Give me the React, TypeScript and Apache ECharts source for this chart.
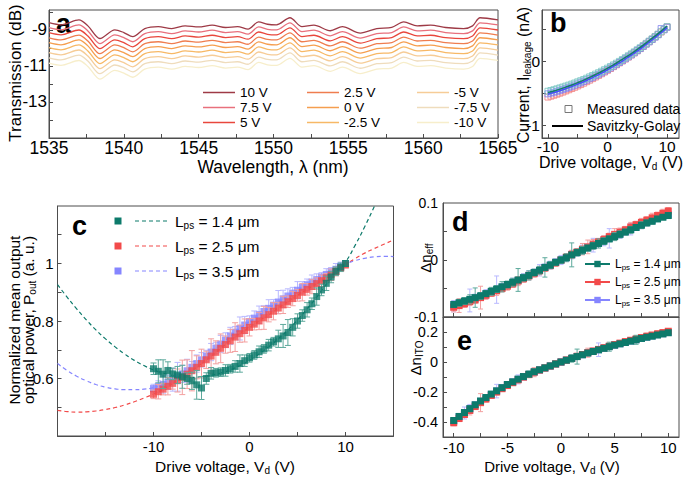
import React, { useEffect, useRef } from 'react';
import * as echarts from 'echarts';

const FONT = "'Liberation Sans', Arial, Helvetica, sans-serif";
const AX = '#4d4d4d';

// ---------- Panel a: transmission spectra ----------
const wavelengths = [1535.0, 1535.8, 1537.0, 1537.6, 1538.4, 1539.4, 1540.0, 1540.6, 1541.4, 1542.3, 1543.2, 1544.1, 1545.0, 1545.9, 1546.8, 1547.6, 1548.3, 1549.0, 1549.6, 1550.2, 1551.1, 1551.9, 1552.7, 1553.8, 1554.6, 1555.8, 1556.9, 1557.9, 1558.7, 1559.6, 1560.5, 1561.5, 1562.7, 1563.3, 1563.8, 1565.0];
const transmission10V = [-8.60, -8.72, -8.45, -8.78, -9.48, -9.00, -9.15, -9.38, -8.93, -8.82, -8.93, -8.78, -8.84, -8.74, -8.87, -8.82, -8.96, -8.56, -8.69, -8.72, -8.33, -8.82, -8.74, -9.05, -8.82, -9.18, -8.93, -8.87, -8.56, -8.78, -8.74, -8.87, -8.93, -8.78, -8.33, -8.45];
const voltageLabels = ['10 V', '7.5 V', '5 V', '2.5 V', '0 V', '-2.5 V', '-5 V', '-7.5 V', '-10 V'];
const voltageShift = [0, -0.28, -0.56, -0.84, -1.11, -1.39, -1.67, -1.95, -2.25];
const voltageColors = ['#9e3a46', '#e8707c', '#e8473c', '#ef7d4f', '#f59e4f', '#f7b866', '#f6cc97', '#efdcbc', '#f7eecb'];
const aXLabels = [1535, 1540, 1545, 1550, 1555, 1560, 1565];
const aXTicks = [1535, 1537.5, 1540, 1542.5, 1545, 1547.5, 1550, 1552.5, 1555, 1557.5, 1560, 1562.5, 1565];
const aYLabels = [-13, -11, -9];
const aYTicks = [-14, -13, -12, -11, -10, -9, -8];

// ---------- Panel b: leakage current ----------
const volts41 = [-10, -9.5, -9, -8.5, -8, -7.5, -7, -6.5, -6, -5.5, -5, -4.5, -4, -3.5, -3, -2.5, -2, -1.5, -1, -0.5, 0, 0.5, 1, 1.5, 2, 2.5, 3, 3.5, 4, 4.5, 5, 5.5, 6, 6.5, 7, 7.5, 8, 8.5, 9, 9.5, 10];
const volts21 = [-10, -9, -8, -7, -6, -5, -4, -3, -2, -1, 0, 1, 2, 3, 4, 5, 6, 7, 8, 9, 10];
const leakCyan = [-0.47, -0.458, -0.446, -0.432, -0.418, -0.404, -0.389, -0.374, -0.358, -0.341, -0.323, -0.305, -0.286, -0.266, -0.245, -0.224, -0.202, -0.180, -0.157, -0.133, -0.109, -0.084, -0.058, -0.031, -0.003, 0.026, 0.055, 0.085, 0.115, 0.146, 0.179, 0.211, 0.245, 0.279, 0.314, 0.350, 0.386, 0.423, 0.461, 0.500, 0.540];
const leakBlue = [-0.51, -0.497, -0.485, -0.471, -0.456, -0.441, -0.425, -0.409, -0.392, -0.374, -0.355, -0.336, -0.316, -0.295, -0.273, -0.251, -0.228, -0.205, -0.181, -0.156, -0.130, -0.104, -0.077, -0.049, -0.020, 0.009, 0.039, 0.069, 0.100, 0.132, 0.165, 0.198, 0.232, 0.267, 0.303, 0.339, 0.376, 0.413, 0.510, 0.490, 0.530];
const leakRed = [-0.56, -0.546, -0.531, -0.515, -0.499, -0.482, -0.464, -0.446, -0.427, -0.407, -0.386, -0.365, -0.343, -0.320, -0.296, -0.272, -0.247, -0.222, -0.196, -0.169, -0.142, -0.114, -0.085, -0.056, -0.026, 0.004, 0.034, 0.065, 0.097, 0.130, 0.163, 0.197, 0.232, 0.268, 0.305, 0.342, 0.380, 0.418, 0.456, 0.495, 0.535];
const sgTeal = [-0.49, -0.465, -0.436, -0.405, -0.372, -0.335, -0.296, -0.253, -0.208, -0.161, -0.11, -0.057, 0.0, 0.059, 0.12, 0.185, 0.252, 0.323, 0.396, 0.471, 0.55];
const sgBlue = [-0.515, -0.49, -0.461, -0.43, -0.397, -0.36, -0.321, -0.278, -0.233, -0.186, -0.135, -0.082, -0.025, 0.034, 0.095, 0.16, 0.227, 0.298, 0.371, 0.446, 0.525];

// ---------- Panel c: normalized output power ----------
const powerL14 = [0.634, 0.625, 0.615, 0.628, 0.616, 0.612, 0.606, 0.600, 0.592, 0.578, 0.567, 0.600, 0.618, 0.620, 0.622, 0.628, 0.634, 0.642, 0.652, 0.662, 0.672, 0.682, 0.693, 0.703, 0.716, 0.728, 0.738, 0.748, 0.760, 0.778, 0.800, 0.819, 0.839, 0.860, 0.885, 0.908, 0.931, 0.953, 0.973, 0.987, 1.000];
const powerL25 = [0.545, 0.554, 0.563, 0.573, 0.583, 0.593, 0.604, 0.615, 0.627, 0.639, 0.652, 0.665, 0.678, 0.691, 0.705, 0.718, 0.731, 0.744, 0.756, 0.767, 0.778, 0.789, 0.800, 0.811, 0.822, 0.834, 0.845, 0.856, 0.867, 0.878, 0.889, 0.900, 0.910, 0.920, 0.930, 0.940, 0.950, 0.961, 0.972, 0.984, 0.995];
const powerL35 = [0.565, 0.572, 0.579, 0.587, 0.596, 0.606, 0.616, 0.627, 0.639, 0.652, 0.665, 0.678, 0.692, 0.706, 0.720, 0.734, 0.748, 0.761, 0.774, 0.786, 0.798, 0.810, 0.822, 0.833, 0.844, 0.855, 0.866, 0.877, 0.887, 0.897, 0.907, 0.917, 0.926, 0.935, 0.944, 0.953, 0.962, 0.971, 0.980, 0.990, 1.000];
const powerErrL14 = [0.02, 0.04, 0.05, 0.03, 0.02, 0.03, 0.04, 0.02, 0.03, 0.05, 0.04, 0.02, 0.02, 0.015, 0.015, 0.02, 0.015, 0.02, 0.03, 0.02, 0.015, 0.015, 0.02, 0.015, 0.02, 0.015, 0.03, 0.04, 0.045, 0.03, 0.025, 0.02, 0.025, 0.02, 0.03, 0.02, 0.025, 0.02, 0.015, 0.015, 0.01];
const powerErrL25 = [0.015, 0.025, 0.02, 0.03, 0.02, 0.04, 0.06, 0.05, 0.07, 0.04, 0.05, 0.03, 0.06, 0.04, 0.05, 0.03, 0.04, 0.05, 0.03, 0.04, 0.03, 0.02, 0.03, 0.04, 0.025, 0.03, 0.02, 0.03, 0.02, 0.025, 0.02, 0.03, 0.02, 0.025, 0.02, 0.02, 0.015, 0.02, 0.015, 0.01, 0.01];
const powerErrL35 = [0.015, 0.02, 0.03, 0.025, 0.04, 0.05, 0.03, 0.04, 0.02, 0.03, 0.025, 0.02, 0.03, 0.02, 0.03, 0.025, 0.03, 0.02, 0.04, 0.03, 0.02, 0.025, 0.03, 0.02, 0.03, 0.02, 0.04, 0.03, 0.025, 0.02, 0.03, 0.02, 0.02, 0.025, 0.02, 0.015, 0.02, 0.015, 0.02, 0.015, 0.01];
const fitVolts = [-20, -19, -18, -17, -16, -15, -14, -13, -12, -11, -10, -9, -8, -7, -6, -5, -4, -3, -2, -1, 0, 1, 2, 3, 4, 5, 6, 7, 8, 9, 10, 11, 12, 13, 14, 15];
const fitL14 = [0.927, 0.883, 0.842, 0.804, 0.769, 0.738, 0.710, 0.685, 0.663, 0.645, 0.630, 0.619, 0.611, 0.606, 0.604, 0.606, 0.611, 0.619, 0.630, 0.645, 0.663, 0.685, 0.710, 0.738, 0.769, 0.804, 0.842, 0.883, 0.927, 0.965, 1.005, 1.063, 1.128, 1.198, 1.27, 1.34];
const fitL25 = [0.489, 0.485, 0.483, 0.484, 0.487, 0.492, 0.499, 0.508, 0.519, 0.532, 0.546, 0.563, 0.583, 0.604, 0.627, 0.652, 0.678, 0.705, 0.731, 0.756, 0.778, 0.800, 0.822, 0.845, 0.867, 0.889, 0.910, 0.930, 0.950, 0.972, 0.995, 1.017, 1.036, 1.052, 1.067, 1.082];
const fitL35 = [0.652, 0.628, 0.608, 0.592, 0.579, 0.570, 0.564, 0.561, 0.561, 0.563, 0.568, 0.578, 0.595, 0.615, 0.638, 0.664, 0.691, 0.719, 0.747, 0.773, 0.798, 0.822, 0.844, 0.866, 0.887, 0.907, 0.926, 0.944, 0.962, 0.980, 0.998, 1.010, 1.018, 1.023, 1.025, 1.024];

// ---------- Panel d: Δn_eff ----------
const neffL14 = [-0.078, -0.075, -0.072, -0.069, -0.066, -0.063, -0.059, -0.055, -0.051, -0.047, -0.043, -0.039, -0.035, -0.031, -0.027, -0.022, -0.018, -0.013, -0.009, -0.004, 0.000, 0.004, 0.009, 0.013, 0.017, 0.021, 0.025, 0.029, 0.033, 0.037, 0.041, 0.045, 0.049, 0.053, 0.057, 0.061, 0.065, 0.068, 0.072, 0.075, 0.078];
const neffL25 = [-0.083, -0.080, -0.077, -0.073, -0.070, -0.066, -0.062, -0.058, -0.054, -0.050, -0.046, -0.042, -0.037, -0.033, -0.028, -0.024, -0.019, -0.014, -0.010, -0.005, 0.000, 0.005, 0.010, 0.014, 0.019, 0.023, 0.028, 0.032, 0.036, 0.041, 0.045, 0.049, 0.053, 0.058, 0.062, 0.066, 0.070, 0.074, 0.078, 0.082, 0.086];
const neffL35 = [-0.081, -0.077, -0.074, -0.071, -0.067, -0.064, -0.060, -0.056, -0.052, -0.048, -0.044, -0.040, -0.036, -0.031, -0.027, -0.022, -0.018, -0.013, -0.009, -0.004, 0.000, 0.004, 0.009, 0.013, 0.018, 0.022, 0.026, 0.030, 0.034, 0.038, 0.042, 0.046, 0.050, 0.054, 0.058, 0.062, 0.066, 0.070, 0.073, 0.077, 0.080];
const neffErrL14 = [0.004, 0.006, 0.006, 0.008, 0.017, 0.006, 0.005, 0.007, 0.006, 0.009, 0.006, 0.007, 0.020, 0.006, 0.008, 0.006, 0.007, 0.017, 0.006, 0.005, 0.006, 0.007, 0.021, 0.006, 0.007, 0.005, 0.006, 0.008, 0.006, 0.005, 0.007, 0.006, 0.005, 0.006, 0.005, 0.006, 0.005, 0.005, 0.004, 0.004, 0.004];
const neffErrL25 = [0.008, 0.012, 0.006, 0.007, 0.006, 0.020, 0.007, 0.006, 0.008, 0.006, 0.007, 0.006, 0.008, 0.006, 0.007, 0.006, 0.007, 0.006, 0.005, 0.006, 0.005, 0.006, 0.007, 0.006, 0.010, 0.012, 0.008, 0.006, 0.007, 0.006, 0.010, 0.007, 0.006, 0.008, 0.006, 0.007, 0.006, 0.008, 0.006, 0.007, 0.006];
const neffErrL35 = [0.010, 0.008, 0.006, 0.020, 0.007, 0.006, 0.008, 0.006, 0.024, 0.007, 0.006, 0.008, 0.006, 0.007, 0.008, 0.006, 0.010, 0.006, 0.007, 0.006, 0.008, 0.006, 0.007, 0.006, 0.008, 0.006, 0.012, 0.007, 0.009, 0.017, 0.007, 0.008, 0.006, 0.010, 0.006, 0.007, 0.006, 0.006, 0.005, 0.005, 0.005];

// ---------- Panel e: Δn_ITO ----------
const nitoL14 = [-0.390, -0.363, -0.337, -0.311, -0.285, -0.260, -0.237, -0.214, -0.192, -0.171, -0.150, -0.132, -0.114, -0.097, -0.081, -0.065, -0.052, -0.039, -0.026, -0.013, 0.000, 0.012, 0.024, 0.036, 0.048, 0.060, 0.070, 0.081, 0.091, 0.102, 0.112, 0.121, 0.130, 0.139, 0.148, 0.157, 0.165, 0.172, 0.180, 0.187, 0.195];
const nitoL25 = [-0.405, -0.377, -0.350, -0.323, -0.297, -0.271, -0.247, -0.223, -0.200, -0.178, -0.157, -0.138, -0.119, -0.101, -0.084, -0.068, -0.054, -0.040, -0.027, -0.013, 0.000, 0.013, 0.025, 0.038, 0.050, 0.062, 0.073, 0.084, 0.095, 0.106, 0.116, 0.126, 0.136, 0.145, 0.154, 0.163, 0.172, 0.180, 0.188, 0.196, 0.205];
const nitoL35 = [-0.395, -0.366, -0.340, -0.313, -0.287, -0.262, -0.239, -0.216, -0.194, -0.173, -0.152, -0.134, -0.116, -0.099, -0.083, -0.067, -0.053, -0.040, -0.027, -0.013, 0.000, 0.012, 0.025, 0.037, 0.049, 0.061, 0.071, 0.082, 0.092, 0.103, 0.113, 0.122, 0.131, 0.140, 0.149, 0.158, 0.166, 0.174, 0.182, 0.189, 0.197];
const nitoErrL14 = [0.01, 0.015, 0.012, 0.02, 0.015, 0.012, 0.02, 0.015, 0.012, 0.015, 0.02, 0.012, 0.015, 0.012, 0.02, 0.015, 0.012, 0.015, 0.012, 0.015, 0.012, 0.015, 0.025, 0.05, 0.015, 0.012, 0.015, 0.012, 0.015, 0.03, 0.012, 0.015, 0.02, 0.012, 0.03, 0.012, 0.015, 0.012, 0.01, 0.01, 0.01];
const nitoErrL25 = [0.02, 0.015, 0.02, 0.03, 0.015, 0.06, 0.02, 0.015, 0.02, 0.015, 0.02, 0.015, 0.02, 0.015, 0.02, 0.03, 0.015, 0.02, 0.015, 0.02, 0.015, 0.02, 0.015, 0.02, 0.015, 0.03, 0.02, 0.015, 0.02, 0.015, 0.02, 0.015, 0.02, 0.015, 0.02, 0.015, 0.02, 0.015, 0.02, 0.02, 0.015];
const nitoErrL35 = [0.015, 0.02, 0.04, 0.03, 0.02, 0.015, 0.02, 0.015, 0.045, 0.02, 0.015, 0.02, 0.03, 0.015, 0.02, 0.015, 0.02, 0.015, 0.02, 0.015, 0.02, 0.015, 0.02, 0.015, 0.02, 0.015, 0.02, 0.045, 0.02, 0.015, 0.02, 0.015, 0.02, 0.015, 0.02, 0.015, 0.015, 0.015, 0.015, 0.01, 0.01];

const lengthNames = ['L14', 'L25', 'L35'];
const lengthLabels = ['1.4', '2.5', '3.5'];
const TEAL = '#0d7a6b';
const RED = '#f24a4a';
const BLUE = '#8585ff';
const TEAL_ERR = '#5da99c';
const RED_ERR = '#f3a0a0';
const BLUE_ERR = '#b9b9ff';

function richStyles(size: number) {
  const lh = Math.round(size * 1.2);
  return {
    n: { fontSize: size, fontFamily: FONT, color: '#000', fill: '#000', lineHeight: lh },
    s: { fontSize: Math.round(size * 0.65), fontFamily: FONT, color: '#000', fill: '#000', lineHeight: Math.round(size * 0.55), verticalAlign: 'bottom' },
  };
}

function valAxis(gridIndex: number, min: number, max: number, labels: number[] | null, ticks: number[], fontSize: number, margin: number) {
  return {
    type: 'value',
    gridIndex,
    min,
    max,
    axisLine: { show: true, onZero: false, lineStyle: { color: AX, width: 1 } },
    axisTick: { show: true, inside: true, length: 4, customValues: ticks, lineStyle: { color: AX, width: 1 } },
    axisLabel: labels
      ? { show: true, customValues: labels, fontSize, fontFamily: FONT, color: '#000', margin, formatter: (v: number) => String(v) }
      : { show: false },
    splitLine: { show: false },
    minorTick: { show: false },
  };
}

function errorSeries(name: string, xIdx: number, xs: number[], ys: number[], es: number[], color: string, cap: number, z: number) {
  return {
    type: 'custom',
    name,
    xAxisIndex: xIdx,
    yAxisIndex: xIdx,
    silent: true,
    z,
    encode: { x: 0, y: 1 },
    data: xs.map((x, i) => [x, ys[i], es[i]]),
    renderItem: (params: any, api: any) => {
      const x = api.value(0);
      const y = api.value(1);
      const e = api.value(2);
      const top = api.coord([x, y + e]);
      const bot = api.coord([x, y - e]);
      const st = { stroke: color, lineWidth: 1 };
      return {
        type: 'group',
        children: [
          { type: 'line', shape: { x1: top[0], y1: top[1], x2: bot[0], y2: bot[1] }, style: st },
          { type: 'line', shape: { x1: top[0] - cap, y1: top[1], x2: top[0] + cap, y2: top[1] }, style: st },
          { type: 'line', shape: { x1: bot[0] - cap, y1: bot[1], x2: bot[0] + cap, y2: bot[1] }, style: st },
        ],
      };
    },
  };
}

function vText(x: number, y: number, text: string, size: number) {
  return {
    type: 'text',
    x,
    y,
    rotation: Math.PI / 2,
    silent: true,
    style: { text, rich: richStyles(size), fontSize: size, fontFamily: FONT, fill: '#000', align: 'center', verticalAlign: 'middle' },
  };
}

function hText(x: number, y: number, text: string, size: number, align = 'center') {
  return {
    type: 'text',
    x,
    y,
    silent: true,
    style: { text, rich: richStyles(size), fontSize: size, fontFamily: FONT, fill: '#000', align, verticalAlign: 'middle' },
  };
}

function plainText(x: number, y: number, text: string, size: number) {
  return {
    type: 'text',
    x,
    y,
    silent: true,
    style: { text, fontSize: size, fontFamily: FONT, fill: '#000', align: 'center', verticalAlign: 'middle' },
  };
}

function letter(x: number, y: number, t: string) {
  return {
    type: 'text',
    x,
    y,
    silent: true,
    style: { text: t, fontSize: 27, fontWeight: 'bold', fontFamily: FONT, fill: '#000', align: 'left', verticalAlign: 'middle' },
  };
}

function buildOption() {
  const grids = [
    { left: 49, top: 10, width: 449, height: 128 },
    { left: 542, top: 10, width: 137, height: 128 },
    { left: 57.5, top: 206, width: 336, height: 230 },
    { left: 443, top: 203, width: 236, height: 114 },
    { left: 443, top: 317, width: 236, height: 120 },
  ].map((g) => ({ ...g, show: true, borderColor: AX, borderWidth: 1, containLabel: false, outerBoundsMode: 'none', backgroundColor: 'transparent' }));

  const ticks25 = [-10, -7.5, -5, -2.5, 0, 2.5, 5, 7.5, 10];
  const xAxis = [
    valAxis(0, 1535, 1565, aXLabels, aXTicks, 17.5, 0.5),
    valAxis(1, -11, 12, [-10, 0, 10], [-10, -5, 0, 5, 10], 15.5, 0),
    valAxis(2, -20, 15, [-10, 0, 10], [-15, -10, -5, 0, 5, 10], 15, 3),
    valAxis(3, -11, 11, null, ticks25, 15, 4),
    valAxis(4, -11, 11, [-10, -5, 0, 5, 10], ticks25, 15, 3),
  ];
  const yAxis = [
    valAxis(0, -15, -7.9, aYLabels, aYTicks, 17, 2),
    valAxis(1, -1.2, 0.8, [-1, 0], [-1, -0.5, 0, 0.5], 15.5, 2),
    valAxis(2, 0.4, 1.2, [0.6, 0.8, 1], [0.5, 0.6, 0.7, 0.8, 0.9, 1, 1.1], 15, 4),
    valAxis(3, -0.1, 0.1, [-0.1, 0, 0.1], [-0.05, 0, 0.05], 14, 5),
    valAxis(4, -0.5, 0.3, [-0.4, -0.2, 0, 0.2], [-0.4, -0.3, -0.2, -0.1, 0, 0.1, 0.2], 14.5, 5),
  ];

  const series: any[] = [];

  // Panel a
  voltageLabels.forEach((name, k) => {
    series.push({
      type: 'line',
      name,
      xAxisIndex: 0,
      yAxisIndex: 0,
      symbol: 'none',
      smooth: 0.3,
      silent: true,
      z: 2 + (9 - k) * 0.01,
      lineStyle: { color: voltageColors[k], width: 1.3 },
      itemStyle: { color: voltageColors[k] },
      data: wavelengths.map((w, i) => [w, transmission10V[i] + voltageShift[k]]),
    });
  });

  // Panel b
  const bMeasured: [string, number[], string][] = [
    ['bRed', leakRed, '#f07a7a'],
    ['bBlue', leakBlue, '#7f7ff0'],
    ['bCyan', leakCyan, '#76c4c2'],
  ];
  bMeasured.forEach(([name, vals, color]) => {
    series.push({
      type: 'scatter',
      name,
      xAxisIndex: 1,
      yAxisIndex: 1,
      symbol: 'rect',
      symbolSize: 6,
      silent: true,
      z: 2,
      itemStyle: { color: 'rgba(0,0,0,0)', borderColor: color, borderWidth: 1 },
      data: volts41.map((v, i) => [v, vals[i]]),
    });
  });
  series.push({
    type: 'line', name: 'sgBlue', xAxisIndex: 1, yAxisIndex: 1, symbol: 'none', smooth: true, silent: true, z: 3,
    lineStyle: { color: '#4a4aff', width: 1.5 }, data: volts21.map((v, i) => [v, sgBlue[i]]),
  });
  series.push({
    type: 'line', name: 'sgTeal', xAxisIndex: 1, yAxisIndex: 1, symbol: 'none', smooth: true, silent: true, z: 3,
    lineStyle: { color: '#137a6c', width: 1.5 }, data: volts21.map((v, i) => [v, sgTeal[i]]),
  });

  // Panel c
  const cFits: [number[], string][] = [[fitL25, RED], [fitL35, BLUE], [fitL14, TEAL]];
  cFits.forEach(([vals, color], k) => {
    series.push({
      type: 'line', name: 'fit' + k, xAxisIndex: 2, yAxisIndex: 2, symbol: 'none', smooth: true, silent: true, z: 1,
      lineStyle: { color, width: 1.2, type: [4, 3] }, data: fitVolts.map((v, i) => [v, vals[i]]),
    });
  });
  const cSets: [number[], number[], string, string][] = [
    [powerL35, powerErrL35, BLUE, BLUE_ERR],
    [powerL25, powerErrL25, RED, RED_ERR],
    [powerL14, powerErrL14, TEAL, TEAL_ERR],
  ];
  cSets.forEach(([vals, errs, color, ecolor], k) => {
    series.push(errorSeries('cerr' + k, 2, volts41, vals, errs, ecolor, 3, 2 + k * 2));
    series.push({
      type: 'scatter', name: 'c' + k, xAxisIndex: 2, yAxisIndex: 2, symbol: 'rect', symbolSize: 7, silent: true,
      z: 3 + k * 2, itemStyle: { color }, data: volts41.map((v, i) => [v, vals[i]]),
    });
  });

  // Panels d and e
  const deSets: [number, number[], number[], number[], number[], number[], number[]][] = [
    [3, neffL35, neffErrL35, neffL25, neffErrL25, neffL14, neffErrL14],
    [4, nitoL35, nitoErrL35, nitoL25, nitoErrL25, nitoL14, nitoErrL14],
  ];
  deSets.forEach(([idx, v35, e35, v25, e25, v14, e14]) => {
    const sets: [string, number[], number[], string, string][] = [
      ['L35', v35, e35, BLUE, BLUE_ERR],
      ['L25', v25, e25, RED, RED_ERR],
      ['L14', v14, e14, TEAL, TEAL_ERR],
    ];
    sets.forEach(([name, vals, errs, color, ecolor], k) => {
      series.push(errorSeries('err' + idx + name, idx, volts41, vals, errs, ecolor, 2.5, 2 + k * 2));
      series.push({
        type: 'line', name, xAxisIndex: idx, yAxisIndex: idx, symbol: 'rect', symbolSize: 7, showSymbol: true,
        silent: true, z: 3 + k * 2, lineStyle: { color, width: 1 }, itemStyle: { color },
        data: volts41.map((v, i) => [v, vals[i]]),
      });
    });
  });

  const legendText = { fontSize: 13.5, lineHeight: 13, fontFamily: FONT, color: '#000' };
  const legends: any[] = [
    { data: voltageLabels.slice(0, 3), left: 203, top: 85.5 },
    { data: voltageLabels.slice(3, 6), left: 307, top: 85.5 },
    { data: voltageLabels.slice(6, 9), left: 417, top: 85.5 },
  ].map((l) => ({
    ...l,
    orient: 'vertical',
    icon: 'rect',
    itemWidth: 32,
    itemHeight: 1.5,
    itemGap: 1,
    padding: 0,
    selectedMode: false,
    textStyle: legendText,
  }));
  legends.push({
    data: lengthNames,
    orient: 'vertical',
    left: 584,
    top: 258,
    itemWidth: 25,
    itemHeight: 8,
    itemGap: 5,
    padding: 0,
    selectedMode: false,
    formatter: (name: string) => `{n|L}{s|ps}{n| = ${lengthLabels[lengthNames.indexOf(name)]} μm}`,
    textStyle: { fontSize: 12, fontFamily: FONT, color: '#000', rich: richStyles(12) },
  });

  const graphic: any[] = [
    // axis titles
    vText(15, 73, '{n|Transmission (dB)}', 17),
    plainText(273, 167, 'Wavelength, λ (nm)', 17.5),
    vText(523, 75, '{n|Current, I}{s|leakage}{n| (nA)}', 16),
    hText(611, 162, '{n|Drive voltage, V}{s|d}{n| (V)}', 16),
    vText(14, 320, '{n|Normalized mean output}', 15.5),
    vText(28, 320, '{n|optical power, P}{s|out}{n| (a. u.)}', 15.5),
    hText(225, 466, '{n|Drive voltage, V}{s|d}{n| (V)}', 15.5),
    vText(425, 258, '{n|Δn}{s|eff}', 15),
    vText(415, 358, '{n|Δn}{s|ITO}', 15),
    hText(552, 466, '{n|Drive voltage, V}{s|d}{n| (V)}', 15),
    // panel letters
    letter(56, 24, 'a'),
    letter(550, 23, 'b'),
    letter(72, 226, 'c'),
    letter(452, 222, 'd'),
    letter(457, 341, 'e'),
    // panel b legend
    { type: 'rect', silent: true, shape: { x: 565, y: 105.5, width: 7, height: 7 }, style: { fill: 'none', stroke: '#777', lineWidth: 1 } },
    hText(587, 109, '{n|Measured data}', 14, 'left'),
    { type: 'line', silent: true, shape: { x1: 552, y1: 126, x2: 583, y2: 126 }, style: { stroke: '#000', lineWidth: 2 } },
    hText(587, 126, '{n|Savitzky-Golay}', 14, 'left'),
  ];
  const cLegendColors = [TEAL, RED, BLUE];
  const cLegendY = [221, 246, 271];
  lengthLabels.forEach((lab, k) => {
    const y = cLegendY[k];
    graphic.push({ type: 'rect', silent: true, shape: { x: 114.5, y: y - 3.5, width: 7, height: 7 }, style: { fill: cLegendColors[k] } });
    graphic.push({ type: 'line', silent: true, shape: { x1: 135, y1: y, x2: 168, y2: y }, style: { stroke: cLegendColors[k], lineWidth: 1.2, lineDash: [4, 3] } });
    graphic.push(hText(175, y, `{n|L}{s|ps}{n| = ${lab} μm}`, 15.5, 'left'));
  });

  return {
    animation: false,
    backgroundColor: '#ffffff',
    textStyle: { fontFamily: FONT },
    grid: grids,
    xAxis,
    yAxis,
    legend: legends,
    series,
    graphic: { elements: graphic },
  };
}

export default function App() {
  const ref = useRef<HTMLDivElement>(null);
  useEffect(() => {
    if (!ref.current) return;
    const chart = echarts.init(ref.current, null, { renderer: 'svg' });
    chart.setOption(buildOption() as any);
    return () => chart.dispose();
  }, []);
  return (
    <div
      ref={ref}
      style={{ position: 'absolute', left: 0, top: 0, width: 685, height: 482, background: '#fff' }}
    />
  );
}
